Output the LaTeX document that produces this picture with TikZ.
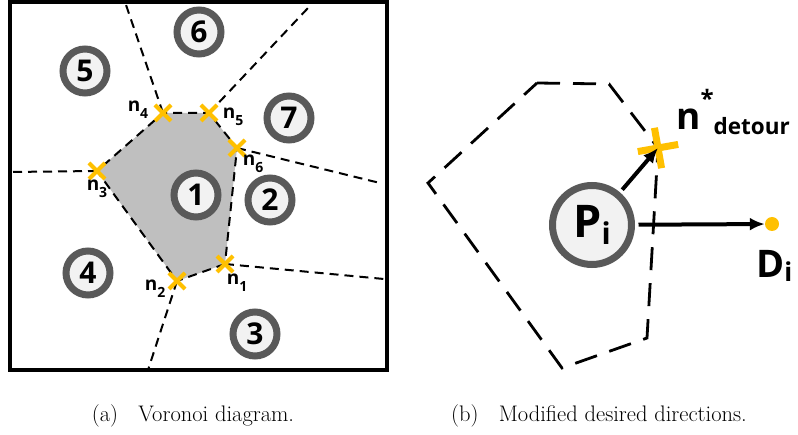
\documentclass[tikz,border=0pt]{standalone}
\usepackage{fontspec}
\usepackage{tikz}
\usetikzlibrary{shapes.misc,arrows.meta,positioning}
\newfontfamily\figfont{Open Sans}
\definecolor{sitegray}{HTML}{595959}
\definecolor{sitefill}{HTML}{F2F2F2}
\definecolor{cellgray}{HTML}{BFBFBF}
\definecolor{markorange}{HTML}{FFC000}
% lowered index: drop, size, text
\newcommand{\idx}[3]{\raisebox{-#1}{\fontsize{#2}{#2}\selectfont #3}}

\begin{document}
\begin{tikzpicture}[
    x=1pt, y=-1pt,
    site/.style={circle, draw=sitegray, fill=sitefill, line width=7pt, minimum size=44pt, inner sep=0pt, font=\figfont\bfseries\fontsize{30}{30}\selectfont},
    agent/.style={site, minimum size=79pt, font=\figfont\bfseries\fontsize{45}{45}\selectfont},
    vertex/.style={cross out, draw=markorange, line width=4pt, minimum size=12pt, inner sep=0pt},
    detour/.style={cross out, draw=markorange, line width=7pt, minimum size=22pt, inner sep=0pt, rotate=55},
    goal/.style={circle, fill=markorange, minimum size=14pt, inner sep=0pt},
    nlab/.style={inner sep=0pt, font=\figfont\bfseries\fontsize{19}{19}\selectfont},
    edge/.style={draw, line width=2pt, dash pattern=on 9pt off 6pt},
    bigedge/.style={draw, line width=2.8pt, dash pattern=on 23pt off 13pt},
    line/.style={draw, line width=4pt, -{Latex[length=15pt,width=13pt]}},
    caption/.style={inner sep=0pt, font=\fontsize{22.5}{22.5}\selectfont}
]
\useasboundingbox (0,0) rectangle (798,435);

% (a) Voronoi diagram
\draw[line width=4pt] (10,2) rectangle (387,370);

\coordinate (v1) at (225,264);
\coordinate (v2) at (177,281);
\coordinate (v3) at (97,171);
\coordinate (v4) at (163,113);
\coordinate (v5) at (209,113);
\coordinate (v6) at (237,148);

\coordinate (e2) at (148,370);
\coordinate (e3) at (10,172);
\coordinate (e4) at (125,2);
\coordinate (e5) at (308,8);
\coordinate (e6) at (380,183);
\coordinate (e1) at (384,279);

\fill[cellgray] (v1) -- (v2) -- (v3) -- (v4) -- (v5) -- (v6) -- cycle;
\path[edge] (v1) -- (v2) -- (v3) -- (v4) -- (v5) -- (v6) -- cycle;
\path[edge] (v1) -- (e1);
\path[edge] (v2) -- (e2);
\path[edge] (v3) -- (e3);
\path[edge] (v4) -- (e4);
\path[edge] (v5) -- (e5);
\path[edge] (v6) -- (e6);

% Sites
\node[site] (s1) at (196,195) {1};
\node[site] (s2) at (270,200) {2};
\node[site] (s3) at (255,334) {3};
\node[site] (s4) at (88,273) {4};
\node[site] (s5) at (85,71) {5};
\node[site] (s6) at (199,32) {6};
\node[site] (s7) at (289,118) {7};

% Vertices
\foreach \i in {1,...,6}
    \node[vertex] (x\i) at (v\i) {};

\node[nlab] (l1) at ([shift={(12,19)}]x1.center) {n\idx{7pt}{14}{1}};
\node[nlab] (l2) at ([shift={(-22,8)}]x2.center) {n\idx{7pt}{14}{2}};
\node[nlab] (l3) at ([shift={(0,18)}]x3.center) {n\idx{7pt}{14}{3}};
\node[nlab] (l4) at ([shift={(-25,-3)}]x4.center) {n\idx{7pt}{14}{4}};
\node[nlab] (l5) at ([shift={(24,4)}]x5.center) {n\idx{7pt}{14}{5}};
\node[nlab] (l6) at ([shift={(16,16)}]x6.center) {n\idx{7pt}{14}{6}};

% (b) Modified desired directions
\coordinate (c1) at (537,83);
\coordinate (c2) at (609,84);
\coordinate (cd) at (658,148);
\coordinate (c3) at (647,338);
\coordinate (c4) at (562,368);
\coordinate (c5) at (428,183);
\path[bigedge] (c1) -- (c2) -- (cd) -- (c3) -- (c4) -- (c5) -- cycle;

\node[agent] (pi) at (592,225) {P\idx{7pt}{30}{i}};
\node[goal] (di) at (772,224) {};
\node[detour] (xd) at (cd) {};

\path[line, shorten <=3.5pt] (pi) -- (xd.center);
\path[line, shorten <=3.5pt] (pi) -- (di);

\node[anchor=base west, inner sep=0pt, font=\figfont\bfseries\fontsize{38}{38}\selectfont] (dlab) at ([shift={(-16,54)}]di.center) {D\idx{4pt}{26}{i}};
\node[anchor=base west, inner sep=0pt, font=\figfont\bfseries\fontsize{37}{37}\selectfont] (nlab) at ([shift={(18,-18)}]xd.center)
    {n\raisebox{22pt}{\fontsize{24}{24}\selectfont *}\idx{5pt}{22.5}{detour}};

% Captions
\node[caption, anchor=base] (capa) at (193,421) {(a)\hspace{0.9em}Voronoi diagram.};
\node[caption, anchor=base] (capb) at (599,421) {(b)\hspace{0.9em}Modified desired directions.};

\end{tikzpicture}
\end{document}
